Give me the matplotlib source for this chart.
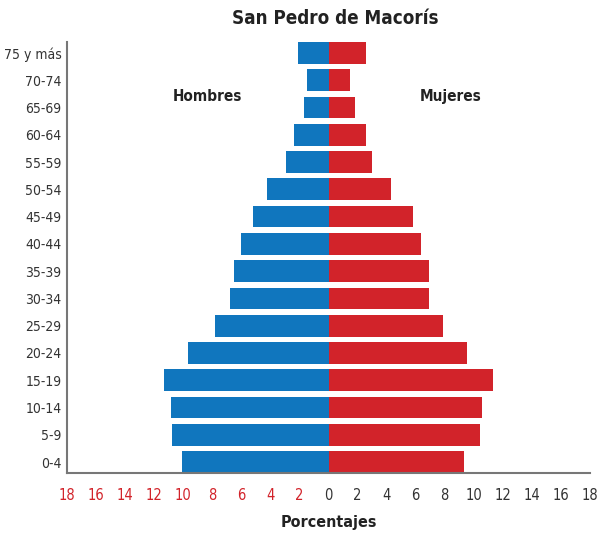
import matplotlib
matplotlib.use("Agg")
import matplotlib.pyplot as plt
import numpy as np

plt.rcParams['font.family'] = ['DejaVu Sans']
plt.rcParams['font.stretch'] = 'condensed'

grupos = ['0-4', '5-9', '10-14', '15-19', '20-24', '25-29', '30-34', '35-39',
          '40-44', '45-49', '50-54', '55-59', '60-64', '65-69', '70-74', '75 y más']
hombres = [10.05, 10.75, 10.85, 11.35, 9.7, 7.8, 6.8, 6.5, 6.05, 5.2, 4.25, 2.95, 2.4, 1.7, 1.45, 2.1]
mujeres = [9.35, 10.4, 10.55, 11.35, 9.55, 7.85, 6.95, 6.95, 6.4, 5.8, 4.3, 3.0, 2.6, 1.8, 1.5, 2.55]

azul = '#1076be'
rojo = '#d2232a'

fig = plt.figure(figsize=(6.08, 5.37), dpi=100)
ax = fig.add_axes([67 / 608, (537 - 473) / 537, (590 - 67) / 608, (473 - 42) / 537])

y = np.arange(len(grupos))
ax.barh(y, -np.array(hombres), height=0.8, color=azul)
ax.barh(y, mujeres, height=0.8, color=rojo)

ax.set_xlim(-18, 18)
ax.set_ylim(-0.4, len(grupos) - 0.6)

ticks = np.arange(-18, 19, 2)
ax.set_xticks(ticks)
ax.set_xticklabels([str(abs(t)) for t in ticks], fontsize=10.5)
for t, lab in zip(ticks, ax.get_xticklabels()):
    lab.set_color(rojo if t < 0 else '#333333')
ax.set_yticks(y)
ax.set_yticklabels(grupos, fontsize=10, color='#333333')
ax.tick_params(axis='y', length=0, pad=4)
ax.tick_params(axis='x', length=0, pad=11)

for s in ['top', 'right']:
    ax.spines[s].set_visible(False)
for s in ['left', 'bottom']:
    ax.spines[s].set_color('#777777')
    ax.spines[s].set_linewidth(1.5)

ax.text(-8.3, 13.4, 'Hombres', fontsize=11, fontweight='bold', ha='center', va='center', color='#222222')
ax.text(8.4, 13.4, 'Mujeres', fontsize=11, fontweight='bold', ha='center', va='center', color='#222222')

fig.text(335 / 608, 1 - 18 / 537, 'San Pedro de Macorís', fontsize=13.5, fontweight='bold',
         ha='center', va='center', color='#222222')
fig.text(329 / 608, 1 - 523 / 537, 'Porcentajes', fontsize=11.5, fontweight='bold',
         ha='center', va='center', color='#222222')

fig.savefig('out.png', dpi=100)
